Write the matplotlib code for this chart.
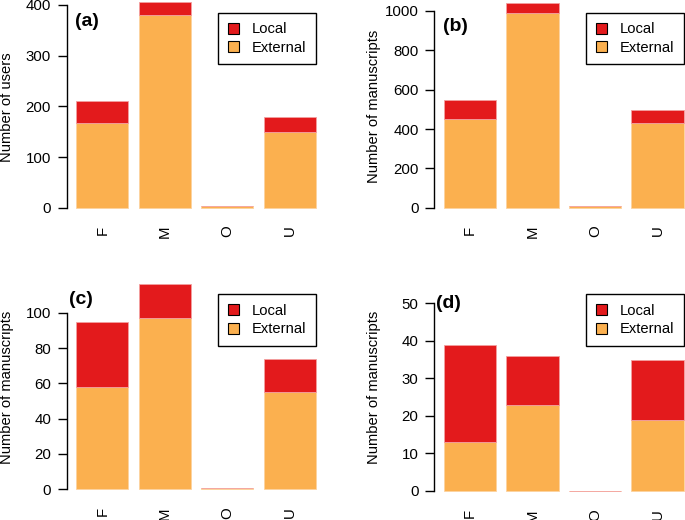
import matplotlib.pyplot as plt
from matplotlib.patches import Patch

plt.rcParams['font.family'] = ['Liberation Sans', 'DejaVu Sans']

# gender categories
genders = ['F', 'M', 'O', 'U']

# (a) users
users_external = [168, 380, 3, 150]
users_local = [42, 25, 0, 28]
# (b) manuscripts
ms_external = [450, 990, 8, 432]
ms_local = [100, 53, 0, 64]
# (c) manuscripts
c_external = [58, 97, 1, 55]
c_local = [37, 19, 0, 19]
# (d) manuscripts
d_external = [13, 23, 0, 19]
d_local = [26, 13, 0, 16]

RED = '#E31A1C'
ORANGE = '#FBB04F'
W, H = 685, 520

fig = plt.figure(figsize=(W / 100, H / 100), dpi=100)

# bar centres as in R barplot (width 1, space 0.2)
centers = [0.7 + 1.2 * i for i in range(len(genders))]


def panel(left_px, zero_px, unit_px, top_px, ext, loc, yticks, ylabel, tag,
          tag_xy, leg_xy, ylab_xy):
    bottom_px = zero_px + 8.3
    width_px = 4.968 * 52.1
    ax = fig.add_axes([left_px / W, 1 - bottom_px / H,
                       width_px / W, (bottom_px - top_px) / H])
    ax.bar(centers, ext, width=1, color=ORANGE, edgecolor='#FDD3A0', linewidth=0.6)
    ax.bar(centers, loc, width=1, bottom=ext, color=RED, edgecolor='#F3A0A0', linewidth=0.6)
    ax.set_xlim(0.016, 4.984)
    ax.set_ylim(-(bottom_px - zero_px) / unit_px, (zero_px - top_px) / unit_px)
    for s in ['top', 'right', 'bottom']:
        ax.spines[s].set_visible(False)
    ax.spines['left'].set_bounds(yticks[0], yticks[-1])
    ax.spines['left'].set_linewidth(1.0)
    ax.set_yticks(yticks)
    ax.tick_params(axis='y', length=6.8, width=1.0, pad=4.5, labelsize=10.8)
    ax.set_xticks(centers, genders, rotation=90)
    ax.tick_params(axis='x', length=0, pad=7, labelsize=10.8)

    fig.text(ylab_xy[0] / W, 1 - ylab_xy[1] / H, ylabel, rotation=90,
             ha='center', va='center', fontsize=10.6)
    fig.text(tag_xy[0] / W, 1 - tag_xy[1] / H, tag, fontweight='bold',
             fontsize=14, ha='left', va='center')

    handles = [Patch(facecolor=RED, edgecolor='black', linewidth=0.8, label='Local'),
               Patch(facecolor=ORANGE, edgecolor='black', linewidth=0.8, label='External')]
    leg = ax.legend(handles=handles, loc='upper left',
                    bbox_to_anchor=(leg_xy[0] / W, 1 - leg_xy[1] / H),
                    bbox_transform=fig.transFigure, borderaxespad=0,
                    fancybox=False, edgecolor='black', framealpha=1,
                    fontsize=10.6, handlelength=0.75, handleheight=0.75,
                    handletextpad=0.9, borderpad=0.65, labelspacing=0.3)
    leg.get_frame().set_linewidth(1.0)
    return ax


panel(66.7, 207.7, 0.5068, 0, users_external, users_local,
      [0, 100, 200, 300, 400], 'Number of users', '(a)',
      (75.5, 21.7), (218.3, 12.7), (7, 106.7))
panel(434.3, 207.7, 0.1967, 0, ms_external, ms_local,
      [0, 200, 400, 600, 800, 1000], 'Number of manuscripts', '(b)',
      (443.5, 26.7), (586, 12.7), (374, 106.7))
panel(66.7, 489.3, 1.766, 270, c_external, c_local,
      [0, 20, 40, 60, 80, 100], 'Number of manuscripts', '(c)',
      (69.5, 299.3), (218.3, 294.3), (7, 387.5))
panel(434.3, 491, 3.754, 270, d_external, d_local,
      [0, 10, 20, 30, 40, 50], 'Number of manuscripts', '(d)',
      (436.2, 303.3), (586, 294.3), (374, 387.5))

fig.savefig('out.png', dpi=100)
